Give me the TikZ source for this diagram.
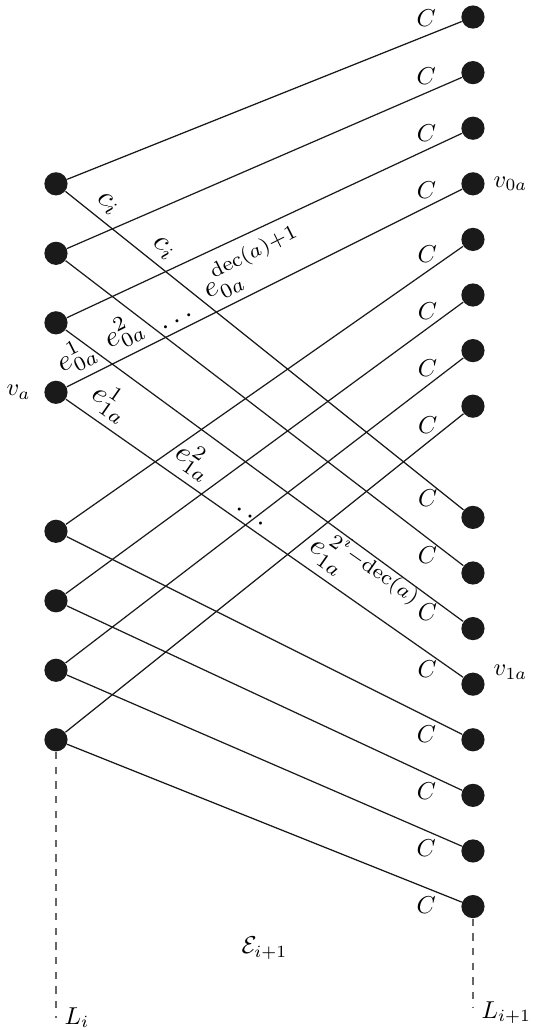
\documentclass[tikz,border=0pt]{standalone}
\usetikzlibrary{positioning}
\definecolor{ink}{HTML}{1A1A1A}
\definecolor{muted}{HTML}{666666}
\newcommand{\RightX}{7.5}
\newcommand{\LeftBottom}{-18}
\newcommand{\RightBottom}{-17.82}
\begin{document}
\begin{tikzpicture}[
    x=0.8cm, y=0.8cm,
    vertex/.style={circle, fill=ink, inner sep=0pt, minimum size=9.5pt},
    edge/.style={draw=ink, line width=0.5pt},
    elabel/.style={sloped, above, scale=1.2, inner sep=2.5pt},
    layerline/.style={dashed, draw=muted, line width=0.5pt},
  ]
\useasboundingbox (-1.007,0.306) rectangle (8.72,-18.22);

% --- The two layers of vertices ------------------------------------------------------
\foreach \k in {0,1,2,3,4,5,6,7,9,10,11,12,13,14,15,16} {
  \node[vertex] (r\k) at (\RightX,-\k) {};
}
\foreach \i/\y in {1/3, 2/4.25, 3/5.5, 4/6.75, 5/9.25, 6/10.5, 7/11.75, 8/13} {
  \node[vertex] (l\i) at (0,-\y) {};
}
\node[left=2pt of l4] (va) {$v_a$};
\node[right=0pt of r3] (v0a) {$v_{0a}$};
\node[right=0pt of r12, yshift=5pt] (v1a) {$v_{1a}$};

% --- Edges between the layers, each of cost C ----------------------------------------
\foreach \i/\k in {1/0, 2/1, 3/2, 4/3, 5/4, 6/5, 7/6, 8/7} {
  \draw[edge] (l\i) -- node[pos=0.91, above] (cu\k) {$C$} (r\k);
}
\foreach \i/\k in {1/9, 2/10, 3/11, 4/12, 5/13, 6/14, 7/15, 8/16} {
  \draw[edge] (l\i) -- node[pos=0.91, below] (cd\k) {$C$} (r\k);
}

% --- Labels along the edges -----------------------------------------------------------
\path (l1) -- node[elabel, pos=0.08] (ci1) {$c_i$} node[elabel, pos=0.22] (ci2) {$c_i$} (r9);
\path (l4) -- node[elabel, pos=0.05] (e01) {$e^1_{0a}$}
              node[elabel, pos=0.17] (e02) {$e^2_{0a}$}
              node[elabel, pos=0.29] (e0d) {$\dots$}
              node[elabel, pos=0.50] (e0n) {$e^{\mathrm{dec}(a)+1}_{0a}$} (r3);
\path (l4) -- node[elabel, pos=0.08] (e11) {$e^1_{1a}$}
              node[elabel, pos=0.29] (e12) {$e^2_{1a}$}
              node[elabel, pos=0.45] (e1d) {$\dots$}
              node[elabel, pos=0.71] (e1n) {$e^{2^i-\mathrm{dec}(a)}_{1a}$} (r12);

% --- The layers themselves --------------------------------------------------------------
\coordinate (lb) at (0,\LeftBottom);
\coordinate (rb) at (\RightX,\RightBottom);
\draw[layerline] (l8) -- (lb);
\draw[layerline] (r16) -- (rb);
\node[right] (Li) at (lb) {$L_i$};
\node[right, yshift=-2pt] (Lr) at (rb) {$L_{i+1}$};
\node (E) at (3.75,-16.75) {$\mathcal{E}_{i+1}$};

\end{tikzpicture}
\end{document}
